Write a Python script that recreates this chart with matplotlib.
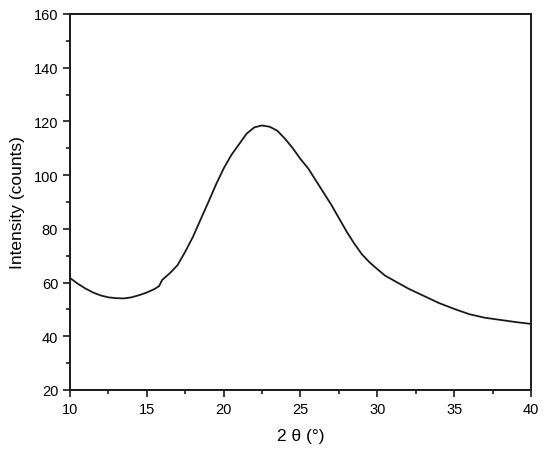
import matplotlib
matplotlib.use("Agg")
import matplotlib.pyplot as plt
from matplotlib.ticker import MultipleLocator

plt.rcParams['font.family'] = ['Liberation Sans', 'DejaVu Sans']

# diffraction pattern
two_theta = [10, 10.5, 11, 11.5, 12, 12.5, 13, 13.5, 14, 14.5, 15, 15.5, 15.8,
             16, 16.5, 17, 17.5, 18, 18.5, 19, 19.5, 20, 20.5, 21, 21.5, 22,
             22.5, 23, 23.5, 24, 24.5, 25, 25.5, 26, 26.5, 27, 27.5, 28, 28.5,
             29, 29.5, 30, 30.5, 31, 31.5, 32, 33, 34, 35, 36, 37, 38, 39, 40]
intensity = [61.7, 59.6, 57.8, 56.3, 55.2, 54.5, 54.2, 54.1, 54.5, 55.3, 56.3,
             57.6, 58.7, 61.0, 63.5, 66.5, 71.5, 77.0, 83.5, 89.9, 96.5, 102.5,
             107.5, 111.5, 115.5, 117.8, 118.5, 118.0, 116.5, 113.5, 110.0,
             106.0, 102.5, 98.0, 93.5, 89.0, 84.0, 79.0, 74.5, 70.5, 67.5, 65.0,
             62.6, 61.0, 59.4, 57.8, 55.1, 52.4, 50.2, 48.2, 46.9, 46.1, 45.3,
             44.6]

fig = plt.figure(figsize=(5.5, 4.56), dpi=100)
ax = fig.add_axes([70/550, 1 - 391/456, 461/550, 376/456])
ax.plot(two_theta, intensity, color='#1a1a1a', lw=1.3)

ax.set_xlim(10, 40)
ax.set_ylim(20, 160)
ax.xaxis.set_major_locator(MultipleLocator(5))
ax.xaxis.set_minor_locator(MultipleLocator(2.5))
ax.yaxis.set_major_locator(MultipleLocator(20))
ax.yaxis.set_minor_locator(MultipleLocator(10))
ax.tick_params(which='both', direction='out', top=False, right=False,
               labelsize=10.5, width=1.2, color='#1a1a1a')
ax.tick_params(which='major', length=5)
ax.tick_params(which='minor', length=3)
for s in ax.spines.values():
    s.set_linewidth(1.4)
    s.set_color('#1a1a1a')

ax.set_xlabel('2 \u03b8 (\u00b0)', fontsize=12.5, labelpad=9)
ax.set_ylabel('Intensity (counts)', fontsize=12.5, labelpad=6)

fig.savefig('out.png', dpi=100)
